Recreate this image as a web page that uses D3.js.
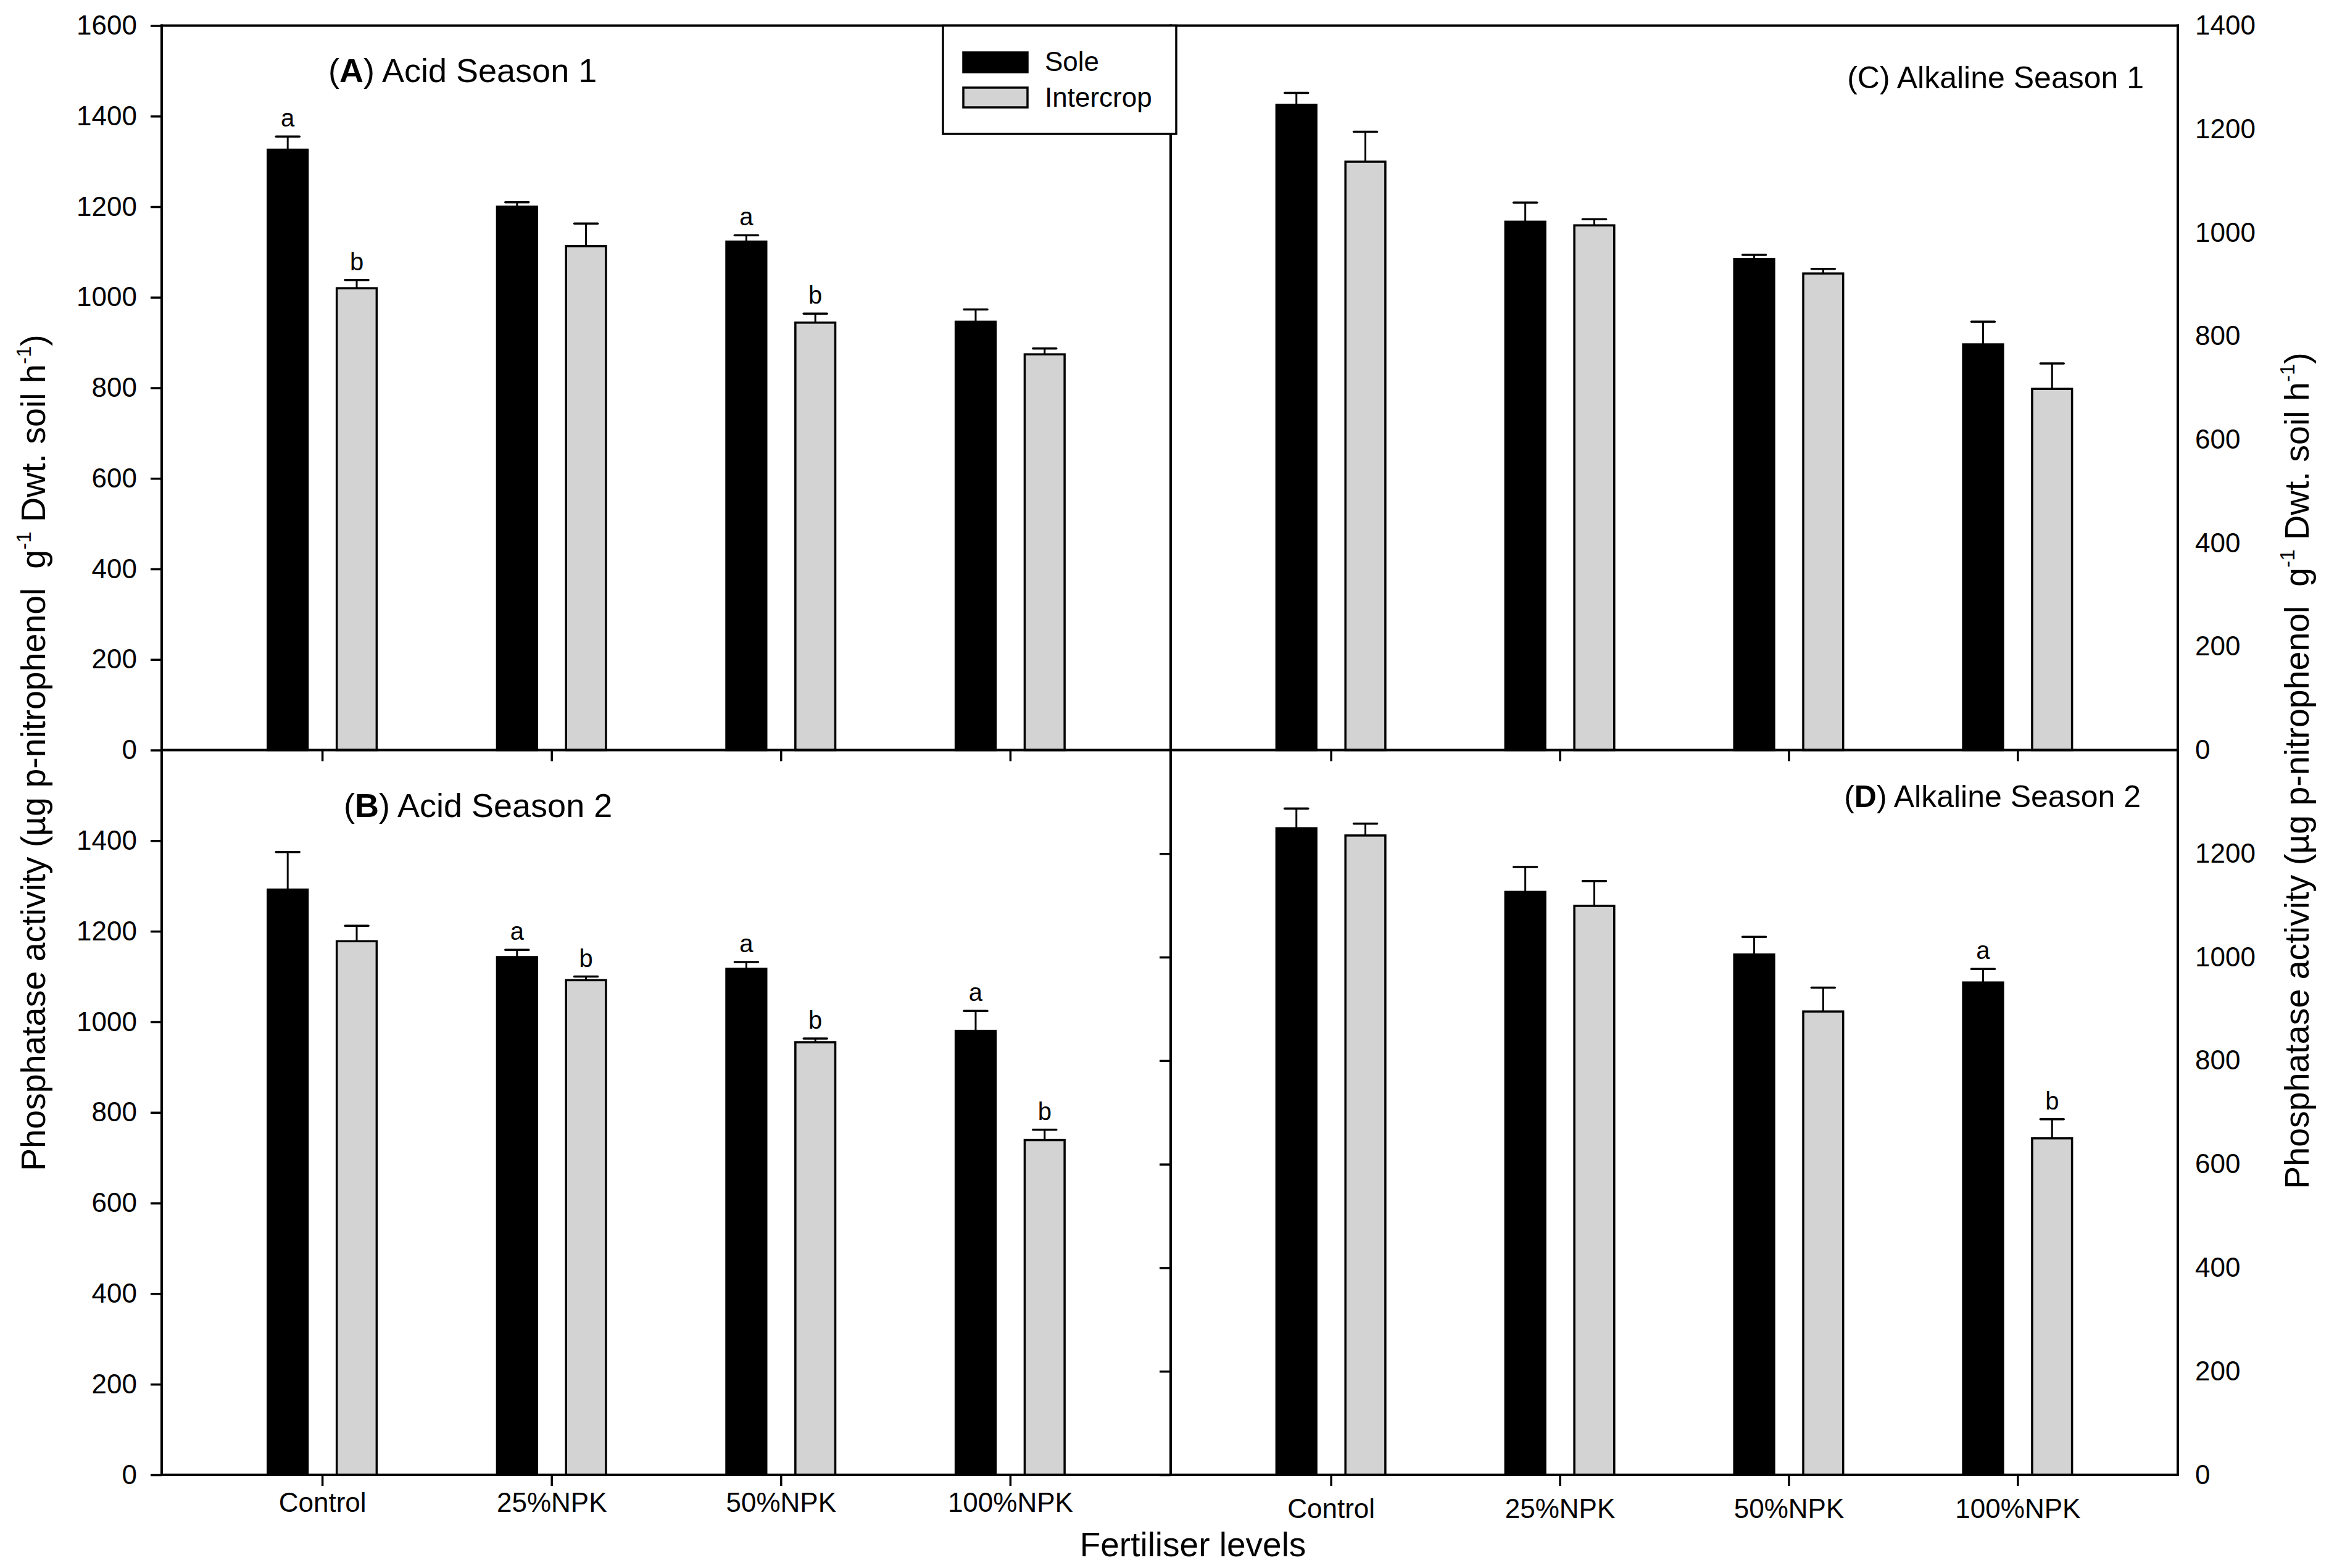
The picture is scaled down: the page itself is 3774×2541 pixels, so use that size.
<!DOCTYPE html>
<html>
<head>
<meta charset="utf-8">
<script src="https://cdn.jsdelivr.net/npm/d3@7"></script>
<style>
  body { margin: 0; background: #fff; }
  text { font-family: "Liberation Sans", Arial, sans-serif; fill: #000; }
</style>
</head>
<body>
<div id="chart"></div>
<script>
const categories = ["Control", "25%NPK", "50%NPK", "100%NPK"];
const seriesNames = ["Sole", "Intercrop"];
const seriesFill = ["#000000", "#d3d3d3"];

// (A) Acid Season 1
const acidS1Sole = [1326, 1200, 1123, 946];
const acidS1SoleErr = [29, 10, 14, 27];
const acidS1Inter = [1020, 1113, 944, 874];
const acidS1InterErr = [18, 50, 20, 13];
const acidS1SoleLetters = ["a", "", "a", ""];
const acidS1InterLetters = ["b", "", "b", ""];

// (B) Acid Season 2
const acidS2Sole = [1292, 1143, 1117, 980];
const acidS2SoleErr = [83, 16, 15, 44];
const acidS2Inter = [1178, 1092, 955, 739];
const acidS2InterErr = [34, 8, 8, 23];
const acidS2SoleLetters = ["", "a", "a", "a"];
const acidS2InterLetters = ["", "b", "b", "b"];

// (C) Alkaline Season 1
const alkS1Sole = [1247, 1021, 949, 784];
const alkS1SoleErr = [23, 37, 8, 44];
const alkS1Inter = [1137, 1014, 921, 698];
const alkS1InterErr = [58, 12, 9, 49];
const alkS1SoleLetters = ["", "", "", ""];
const alkS1InterLetters = ["", "", "", ""];

// (D) Alkaline Season 2
const alkS2Sole = [1249, 1126, 1005, 951];
const alkS2SoleErr = [38, 48, 34, 26];
const alkS2Inter = [1235, 1099, 895, 650];
const alkS2InterErr = [23, 48, 46, 37];
const alkS2SoleLetters = ["", "", "", "a"];
const alkS2InterLetters = ["", "", "", "b"];

// tick values
const acidTicksTop = [0, 200, 400, 600, 800, 1000, 1200, 1400, 1600];
const acidTicksBottom = [0, 200, 400, 600, 800, 1000, 1200, 1400];
const alkTicksTop = [0, 200, 400, 600, 800, 1000, 1200, 1400];
const alkTicksBottom = [0, 200, 400, 600, 800, 1000, 1200];

const W = 3774, H = 2541;
const xLeft = 262, xMid = 1897, xRight = 3529;
const yTop = 41.5, yMid = 1215.5, yBottom = 2390;
const fontFam = '"Liberation Sans", Arial, sans-serif';
const fmt = d3.format("d");

const svg = d3.select("#chart").append("svg")
    .attr("width", W)
    .attr("height", H)
    .style("background", "#fff");

function rows(sole, soleErr, soleLet, inter, interErr, interLet) {
    const out = [];
    categories.forEach((c, i) => {
        out.push({ cat: c, s: "Sole", v: sole[i], e: soleErr[i], l: soleLet[i] });
        out.push({ cat: c, s: "Intercrop", v: inter[i], e: interErr[i], l: interLet[i] });
    });
    return out;
}

const panels = [
    { id: "A", bold: "A", rest: ") Acid Season 1", x0: xLeft, x1: xMid, y0: yTop, y1: yMid, max: 1600,
      data: rows(acidS1Sole, acidS1SoleErr, acidS1SoleLetters, acidS1Inter, acidS1InterErr, acidS1InterLetters),
      tx: 270, ty: 91, anchor: "start", fs: 54 },
    { id: "B", bold: "B", rest: ") Acid Season 2", x0: xLeft, x1: xMid, y0: yMid, y1: yBottom, max: 1600,
      data: rows(acidS2Sole, acidS2SoleErr, acidS2SoleLetters, acidS2Inter, acidS2InterErr, acidS2InterLetters),
      tx: 295, ty: 108, anchor: "start", fs: 54 },
    { id: "C", bold: null, rest: "(C) Alkaline Season 1", x0: xMid, x1: xRight, y0: yTop, y1: yMid, max: 1400,
      data: rows(alkS1Sole, alkS1SoleErr, alkS1SoleLetters, alkS1Inter, alkS1InterErr, alkS1InterLetters),
      tx: -55, ty: 101, anchor: "end", fs: 50 },
    { id: "D", bold: "D", rest: ") Alkaline Season 2", x0: xMid, x1: xRight, y0: yMid, y1: yBottom, max: 1400,
      data: rows(alkS2Sole, alkS2SoleErr, alkS2SoleLetters, alkS2Inter, alkS2InterErr, alkS2InterLetters),
      tx: -60, ty: 92, anchor: "end", fs: 50 }
];

const sub = d3.scaleBand()
    .domain(seriesNames)
    .range([-90, 90])
    .paddingInner(0.39);
const color = d3.scaleOrdinal().domain(seriesNames).range(seriesFill);

panels.forEach(p => {
    p.x = d3.scalePoint().domain(categories).range([p.x0, p.x1]).padding(0.7);
    p.y = d3.scaleLinear().domain([0, p.max]).range([p.y1, p.y0]);

    const g = svg.append("g").attr("class", "panel-" + p.id);

    // bars
    g.selectAll(".bar")
        .data(p.data)
        .enter().append("rect")
        .attr("class", "bar")
        .attr("x", d => p.x(d.cat) + sub(d.s) + 1.75)
        .attr("width", sub.bandwidth() - 3.5)
        .attr("y", d => p.y(d.v))
        .attr("height", d => p.y(0) - p.y(d.v))
        .style("fill", d => color(d.s))
        .style("stroke", "#000")
        .style("stroke-width", 3.5);

    // error bars (upper only)
    g.selectAll(".err")
        .data(p.data)
        .enter().append("line")
        .attr("x1", d => p.x(d.cat) + sub(d.s) + sub.bandwidth() / 2)
        .attr("x2", d => p.x(d.cat) + sub(d.s) + sub.bandwidth() / 2)
        .attr("y1", d => p.y(d.v))
        .attr("y2", d => p.y(d.v + d.e))
        .style("stroke", "#000")
        .style("stroke-width", 3);

    g.selectAll(".cap")
        .data(p.data)
        .enter().append("line")
        .attr("x1", d => p.x(d.cat) + sub(d.s) + sub.bandwidth() / 2 - 19)
        .attr("x2", d => p.x(d.cat) + sub(d.s) + sub.bandwidth() / 2 + 19)
        .attr("y1", d => p.y(d.v + d.e))
        .attr("y2", d => p.y(d.v + d.e))
        .style("stroke", "#000")
        .style("stroke-width", 3.5)
        .style("stroke-linecap", "round");

    // significance letters
    g.selectAll(".sig")
        .data(p.data.filter(d => d.l))
        .enter().append("text")
        .attr("x", d => p.x(d.cat) + sub(d.s) + sub.bandwidth() / 2)
        .attr("y", d => p.y(d.v + d.e) - 16)
        .attr("text-anchor", "middle")
        .style("font-size", "40px")
        .text(d => d.l);

    // panel title
    const t = g.append("text")
        .attr("x", p.anchor === "start" ? p.x0 + p.tx : p.x1 + p.tx)
        .attr("y", p.y0 + p.ty)
        .attr("text-anchor", p.anchor)
        .style("font-size", p.fs + "px");
    if (p.bold) {
        t.append("tspan").text("(");
        t.append("tspan").style("font-weight", "bold").text(p.bold);
        t.append("tspan").text(p.rest);
    } else {
        t.text(p.rest);
    }
});

const [pA, pB, pC, pD] = panels;

function styleAxis(sel, size) {
    sel.select(".domain").remove();
    sel.attr("font-family", fontFam).attr("font-size", size);
    sel.selectAll(".tick line").style("stroke-width", 3.5);
    sel.selectAll(".tick text").style("fill", "#000");
}

// left y axes
svg.append("g")
    .attr("transform", "translate(" + xLeft + ",0)")
    .call(d3.axisLeft(pA.y).tickValues(acidTicksTop).tickFormat(fmt).tickSize(18).tickPadding(22))
    .call(s => styleAxis(s, 44));
svg.append("g")
    .attr("transform", "translate(" + xLeft + ",0)")
    .call(d3.axisLeft(pB.y).tickValues(acidTicksBottom).tickFormat(fmt).tickSize(18).tickPadding(22))
    .call(s => styleAxis(s, 44));

// right y labels (no ticks)
svg.append("g")
    .attr("transform", "translate(" + xRight + ",0)")
    .call(d3.axisRight(pC.y).tickValues(alkTicksTop).tickFormat(fmt).tickSize(0).tickPadding(28))
    .call(s => styleAxis(s, 44));
svg.append("g")
    .attr("transform", "translate(" + xRight + ",0)")
    .call(d3.axisRight(pD.y).tickValues(alkTicksBottom).tickFormat(fmt).tickSize(0).tickPadding(28))
    .call(s => styleAxis(s, 44));

// D ticks on the shared divider
svg.append("g")
    .attr("transform", "translate(" + xMid + ",0)")
    .call(d3.axisLeft(pD.y).tickValues(alkTicksBottom).tickSize(18).tickFormat(""))
    .call(s => styleAxis(s, 44));

// x axes
svg.append("g")
    .attr("transform", "translate(0," + yMid + ")")
    .call(d3.axisBottom(pA.x).tickSize(18).tickFormat(""))
    .call(s => styleAxis(s, 44));
svg.append("g")
    .attr("transform", "translate(0," + yMid + ")")
    .call(d3.axisBottom(pC.x).tickSize(18).tickFormat(""))
    .call(s => styleAxis(s, 44));
svg.append("g")
    .attr("transform", "translate(0," + yBottom + ")")
    .call(d3.axisBottom(pB.x).tickSize(18).tickPadding(11))
    .call(s => styleAxis(s, 44));
svg.append("g")
    .attr("transform", "translate(0," + yBottom + ")")
    .call(d3.axisBottom(pD.x).tickSize(18).tickPadding(21))
    .call(s => styleAxis(s, 44));

// frame lines
const frame = [
    [xLeft, yTop, xRight, yTop],
    [xLeft, yMid, xRight, yMid],
    [xLeft, yBottom, xRight, yBottom],
    [xLeft, yTop, xLeft, yBottom],
    [xMid, yTop, xMid, yBottom],
    [xRight, yTop, xRight, yBottom]
];
svg.selectAll(".frame")
    .data(frame)
    .enter().append("line")
    .attr("x1", d => d[0]).attr("y1", d => d[1])
    .attr("x2", d => d[2]).attr("y2", d => d[3])
    .style("stroke", "#000")
    .style("stroke-width", 4)
    .style("stroke-linecap", "square");

// legend
const legend = svg.append("g").attr("class", "legend");
legend.append("rect")
    .attr("x", 1528).attr("y", yTop)
    .attr("width", 378).attr("height", 217 - yTop)
    .style("fill", "#fff")
    .style("stroke", "#000")
    .style("stroke-width", 3.5);
seriesNames.forEach((s, i) => {
    legend.append("rect")
        .attr("x", 1561).attr("y", 85 + i * 57)
        .attr("width", 104).attr("height", 32)
        .style("fill", color(s))
        .style("stroke", "#000")
        .style("stroke-width", 3.5);
    legend.append("text")
        .attr("x", 1693).attr("y", 115 + i * 58)
        .style("font-size", "44px")
        .text(s);
});

// axis titles
svg.append("text")
    .attr("x", 1933).attr("y", 2522)
    .attr("text-anchor", "middle")
    .style("font-size", "55px")
    .text("Fertiliser levels");

function yTitle(x, y) {
    const t = svg.append("text")
        .attr("transform", "translate(" + x + "," + y + ") rotate(-90)")
        .attr("text-anchor", "middle")
        .style("font-size", "55.5px");
    t.append("tspan").text("Phosphatase activity (\u00b5g p-nitrophenol\u00a0 g");
    t.append("tspan").attr("dy", -23).style("font-size", "33px").text("-1");
    t.append("tspan").attr("dy", 23).text(" Dwt. soil h");
    t.append("tspan").attr("dy", -23).style("font-size", "33px").text("-1");
    t.append("tspan").attr("dy", 23).text(")");
}
yTitle(73, 1220);
yTitle(3741, 1249);
</script>
</body>
</html>
